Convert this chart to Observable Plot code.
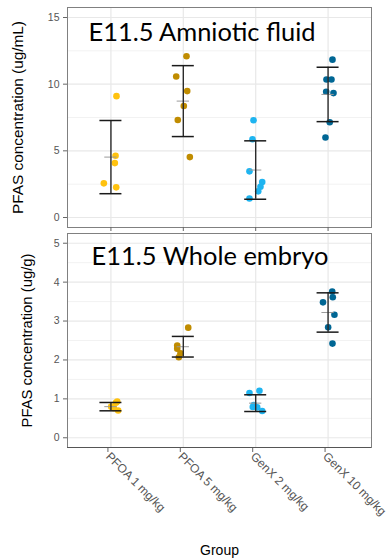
<!DOCTYPE html>
<html><head><meta charset="utf-8">
<script src="https://cdn.jsdelivr.net/npm/d3@7"></script>
<script src="https://cdn.jsdelivr.net/npm/@observablehq/plot@0.6"></script>
<style>
html,body{margin:0;padding:0;background:#fff;}
#chart{width:391px;height:560px;position:relative;overflow:hidden;background:#fff;}
#chart svg{display:block;overflow:visible;}
</style></head><body><div id="chart"></div>
<script>
const categories = ["PFOA 1 mg/kg", "PFOA 5 mg/kg", "GenX 2 mg/kg", "GenX 10 mg/kg"];
const colors = ["#FFC20E", "#C08C00", "#1EB4F0", "#006694"];

// E11.5 Amniotic fluid (ug/mL)
const fluidGroup  = [1,1,1,1,1, 2,2,2,2,2,2, 3,3,3,3,3,3,3, 4,4,4,4,4,4,4];
const fluidValue  = [9.1,4.63,4.08,2.56,2.26, 12.09,10.57,9.48,8.36,7.31,4.53, 7.29,5.87,3.46,2.66,2.31,1.96,1.42, 11.84,10.35,10.35,9.43,9.33,7.14,6.0];
const fluidJitter = [0.077,0.064,0.054,-0.098,0.073, 0.044,-0.098,0.054,0.007,-0.076,0.09, -0.03,-0.044,-0.086,0.09,0.066,0.035,-0.086, 0.061,-0.022,0.047,-0.026,0.075,0.023,-0.036];
const fluidMean = [4.53, 8.73, 3.56, 9.23];
const fluidSD   = [2.745, 2.66, 2.19, 2.04];
const fluidTicks = [0, 5, 10, 15];
const fluidMinor = [2.5, 7.5, 12.5];

// E11.5 Whole embryo (ug/g)
const embryoGroup  = [1,1,1,1,1, 2,2,2,2,2, 3,3,3,3,3,3, 4,4,4,4,4,4];
const embryoValue  = [0.93,0.90,0.80,0.76,0.70, 2.83,2.37,2.29,2.17,2.07, 1.15,1.21,0.84,0.79,0.78,0.69, 3.76,3.61,3.48,3.16,2.84,2.42];
const embryoJitter = [0.087,0.069,0.004,0.041,0.1, 0.068,-0.084,-0.084,-0.039,-0.062, -0.086,0.052,-0.026,-0.04,0.021,0.09, 0.057,0.065,-0.07,0.088,0.001,0.061];
const embryoMean = [0.80, 2.34, 0.89, 3.22];
const embryoSD   = [0.107, 0.265, 0.215, 0.505];
const embryoTicks = [0, 1, 2, 3, 4, 5];
const embryoMinor = [0.5, 1.5, 2.5, 3.5, 4.5];

const CAP = 0.152, MEANW = 0.085;
const groupIdx = categories.map((_, i) => i + 1);
const FONT = "'Liberation Sans', Arial, sans-serif";

function panel(o) {
  const pts = o.group.map((g, i) => ({x: g + o.jitter[i], y: o.value[i], cat: categories[g - 1]}));
  const sums = o.mean.map((m, i) => ({g: i + 1, m, lo: m - o.sd[i], hi: m + o.sd[i]}));
  const marks = [
    Plot.ruleY(o.minor, {stroke: "#f2f2f2", strokeWidth: 1}),
    Plot.ruleY(o.ticks, {stroke: "#e8e8e8", strokeWidth: 1.2}),
    Plot.ruleX(groupIdx, {stroke: "#e8e8e8", strokeWidth: 1.2}),
    Plot.frame({stroke: "#808080", strokeWidth: 1}),
    Plot.dot(pts, {x: "x", y: "y", fill: "cat", r: 3.3}),
    Plot.ruleY(sums, {y: "m", x1: d => d.g - MEANW, x2: d => d.g + MEANW, stroke: "#9a9a9a", strokeWidth: 1}),
    Plot.ruleX(sums, {x: "g", y1: "lo", y2: "hi", stroke: "#2b2b2b", strokeWidth: 1.4}),
    Plot.ruleY(sums, {y: "lo", x1: d => d.g - CAP, x2: d => d.g + CAP, stroke: "#1a1a1a", strokeWidth: 1.5}),
    Plot.ruleY(sums, {y: "hi", x1: d => d.g - CAP, x2: d => d.g + CAP, stroke: "#1a1a1a", strokeWidth: 1.5}),
    Plot.axisY({ticks: o.ticks, tickFormat: d3.format("~g"), tickSize: 4, tickPadding: 4, fontSize: 10.5, fontFamily: FONT, fill: "#555", stroke: "#666", label: null}),
    Plot.text([o.title], {frameAnchor: "top-left", textAnchor: "start", lineAnchor: "top", dx: o.titleDx, dy: o.titleDy, fontSize: 25, fontFamily: "Lato", fill: "#000"}),
    Plot.text([o.ylabel], {frameAnchor: "left", rotate: -90, textAnchor: "middle", lineAnchor: "middle", dx: o.ylabelDx, fontSize: 14, fontFamily: FONT, fill: "#000"})
  ];
  if (o.bottom) {
    marks.push(Plot.ruleY([o.domain[0]], {stroke: "#555", strokeWidth: 1.2}));
    marks.push(Plot.axisX({ticks: groupIdx, tickFormat: i => categories[i - 1], tickRotate: 45, tickSize: 4, tickPadding: 2, dx: -3, dy: 1, fontSize: 12, fontFamily: FONT, fill: "#555", stroke: "#666", label: null}));
    marks.push(Plot.text(["Group"], {frameAnchor: "bottom", lineAnchor: "middle", textAnchor: "middle", dy: 103, fontSize: 14, fontFamily: FONT, fill: "#000"}));
  } else {
    marks.push(Plot.axisX({ticks: groupIdx, tickFormat: () => "", tickSize: 4, stroke: "#666", label: null}));
  }
  const svg = Plot.plot({
    width: 391, height: o.height,
    marginLeft: 67, marginRight: 20, marginTop: o.marginTop, marginBottom: o.marginBottom,
    style: {fontFamily: FONT, background: "#fff", overflow: "visible"},
    x: {type: "linear", domain: [0.4, 4.6]},
    y: {domain: o.domain},
    color: {domain: categories, range: colors},
    marks
  });
  d3.select(svg).selectAll("text").each(function() {
    const t = this.textContent;
    if (t === o.ylabel) d3.select(this).attr("textLength", o.ylabelLen).attr("lengthAdjust", "spacingAndGlyphs");
    if (t === o.title) d3.select(this).attr("textLength", o.titleLen).attr("lengthAdjust", "spacingAndGlyphs");
  });
  return svg;
}

const chart = document.getElementById("chart");
chart.appendChild(panel({
  group: fluidGroup, value: fluidValue, jitter: fluidJitter, mean: fluidMean, sd: fluidSD,
  domain: [-0.75, 15.75], ticks: fluidTicks, minor: fluidMinor,
  height: 231, marginTop: 7, marginBottom: 4,
  title: "E11.5 Amniotic fluid", titleDx: 21, titleDy: 16, titleLen: 227,
  ylabel: "PFAS concentration (ug/mL)", ylabelDx: -49, ylabelLen: 193
}));
chart.appendChild(panel({
  group: embryoGroup, value: embryoValue, jitter: embryoJitter, mean: embryoMean, sd: embryoSD,
  domain: [-0.25, 5.25], ticks: embryoTicks, minor: embryoMinor,
  height: 329, marginTop: 2, marginBottom: 113, bottom: true,
  title: "E11.5 Whole embryo", titleDx: 24, titleDy: 14, titleLen: 237,
  ylabel: "PFAS concentration (ug/g)", ylabelDx: -40, ylabelLen: 174
}));
</script></body></html>
